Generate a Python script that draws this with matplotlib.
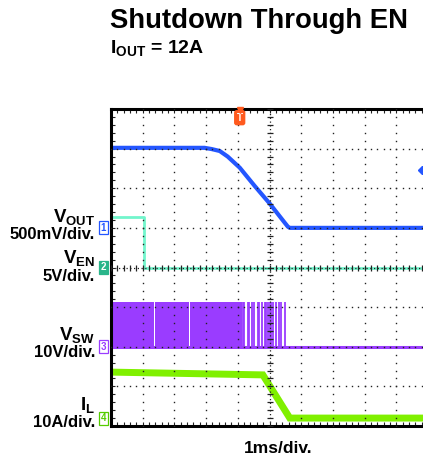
import numpy as np
import matplotlib.pyplot as plt

plt.rcParams['font.family'] = ['Liberation Sans', 'DejaVu Sans']
plt.rcParams['mathtext.fontset'] = 'custom'
plt.rcParams['mathtext.rm'] = 'Liberation Sans:bold'
plt.rcParams['mathtext.bf'] = 'Liberation Sans:bold'
plt.rcParams['mathtext.it'] = 'Liberation Sans:bold'

# scope screen: 10 x 8 divisions, 1ms/div
# V_OUT (500mV/div)
vout_t = [0, 2.95, 3.17, 3.43, 3.68, 4.06, 4.53, 5.01, 5.48, 5.58, 5.64, 10]
vout_v = [7.02, 7.02, 6.99, 6.94, 6.80, 6.52, 6.06, 5.61, 5.13, 5.03, 5.0, 5.0]

# V_EN (5V/div)
en_t = [0, 1.03, 1.03, 10]
en_v = [5.28, 5.28, 4.0, 4.0]

# V_SW (10V/div): switching band, then late pulses, then flat
sw_low = 2.0
sw_high = 3.13
sw_bands = [(0, 1.36), (1.40, 2.46), (2.50, 4.12)]
sw_spikes = [4.15, 4.2, 4.31, 4.36, 4.44, 4.5, 4.63, 4.68, 4.76, 4.85, 4.9, 4.94,
             5.01, 5.06, 5.10, 5.20, 5.29, 5.36, 5.49]

# I_L (10A/div)
il_t = [0, 4.79, 5.64, 10]
il_v = [1.36, 1.29, 0.2, 0.2]

# channel ground markers
ch_names = ['1', '2', '3', '4']
ch_levels = [5.0, 4.0, 2.0, 0.2]
trig_t = 4.06
trig_level = 6.46

blue = '#2456ff'
teal = '#72f5cc'
purple = '#9a3cff'
green = '#80f000'

fig = plt.figure(figsize=(4.23, 4.59), dpi=100)
ax = fig.add_axes([111 / 423, 33 / 459, 317 / 423, 317 / 459])
ax.set_xlim(0, 10)
ax.set_ylim(0, 8)

# traces
for a, b in sw_bands:
    ax.fill_between([a, b], sw_low, sw_high, color=purple, lw=0, zorder=2)
ax.vlines(sw_spikes, sw_low, sw_high, color=purple, lw=1.3, zorder=2)
ax.plot([0, 10], [sw_low, sw_low], color=purple, lw=2.2, zorder=2)

ax.plot(il_t, il_v, color=green, lw=5, zorder=2, solid_joinstyle='miter')
ax.plot(en_t, en_v, color=teal, lw=2, zorder=2)
ax.plot(vout_t, vout_v, color=blue, lw=3, zorder=2)

# graticule
yy = np.arange(0, 8.01, 0.2)
xx = np.arange(0, 10.01, 0.2)
for i in range(1, 10):
    if i != 5:
        ax.plot([i] * len(yy), yy, ls='none', marker='s', ms=1, mew=0, color='#222', zorder=3)
for j in range(1, 8):
    if j != 4:
        ax.plot(xx, [j] * len(xx), ls='none', marker='s', ms=1, mew=0, color='#222', zorder=3)
ax.plot([5, 5], [0, 8], color='#222', lw=0.9, ls=(0, (1, 2)), zorder=3)
ax.plot([5] * len(yy), yy, ls='none', marker='_', ms=5, mew=0.9, color='#222', zorder=3)
ax.plot([0, 10], [4, 4], color='#222', lw=0.9, ls=(0, (1, 2)), zorder=3)
ax.plot(xx, [4] * len(xx), ls='none', marker='|', ms=5, mew=0.9, color='#222', zorder=3)

ax.set_xticks(xx)
ax.set_yticks(yy)
ax.tick_params(direction='in', length=3, width=0.8, color='#222', top=True, right=True,
               labelbottom=False, labelleft=False)
for s in ax.spines.values():
    s.set_linewidth(2.2)

# channel markers
marker_styles = [
    dict(color=blue, bbox=dict(boxstyle='square,pad=0.15', fc='white', ec=blue, lw=0.9)),
    dict(color='white', bbox=dict(boxstyle='square,pad=0.15', fc='#2ab58a', ec='#2ab58a', lw=0.9)),
    dict(color=purple, bbox=dict(boxstyle='square,pad=0.15', fc='white', ec=purple, lw=0.9)),
    dict(color='#55cc00', bbox=dict(boxstyle='square,pad=0.15', fc='white', ec='#55cc00', lw=0.9)),
]
for name, lvl, st in zip(ch_names, ch_levels, marker_styles):
    ax.text(-0.24, lvl, name, fontsize=7, fontweight='bold', ha='center', va='center',
            clip_on=False, zorder=5, **st)

# trigger position and level
ax.text(trig_t, 7.78, 'T', fontsize=7, fontweight='bold', color='white', ha='center', va='center',
        bbox=dict(boxstyle='round,pad=0.2', fc='#ff5a1e', ec='#ff5a1e'), zorder=5)
ax.plot([trig_t], [7.98], marker='v', ms=4, color='#ff5a1e', clip_on=False, zorder=5)
ax.plot([9.81], [trig_level], marker='D', ms=4, color=blue, clip_on=False, zorder=5)

# titles
fig.text(110 / 423, 1 - 28 / 459, 'Shutdown Through EN', fontsize=19.8, fontweight='bold',
         va='baseline', ha='left')
fig.text(110 / 423, 1 - 53 / 459, r'I$_{\mathbf{OUT}}$ = 12A', fontsize=14, fontweight='bold',
         va='baseline', ha='left')

# channel labels
labels = [
    (r'V$_{\mathbf{OUT}}$', 222, 13.5), ('500mV/div.', 239, 12),
    (r'V$_{\mathbf{EN}}$', 263, 13.5), ('5V/div.', 281, 12),
    (r'V$_{\mathbf{SW}}$', 340, 13.5), ('10V/div.', 357, 12),
    (r'I$_{\mathbf{L}}$', 410, 13.5), ('10A/div.', 427, 12),
]
for txt, ypx, fs in labels:
    fig.text(95 / 423, 1 - ypx / 459, txt, fontsize=fs, fontweight='bold',
             ha='right', va='baseline')

fig.text(278 / 423, 1 - 453 / 459, '1ms/div.', fontsize=12.5, fontweight='bold',
         ha='center', va='baseline')

fig.savefig('out.png', dpi=100)
